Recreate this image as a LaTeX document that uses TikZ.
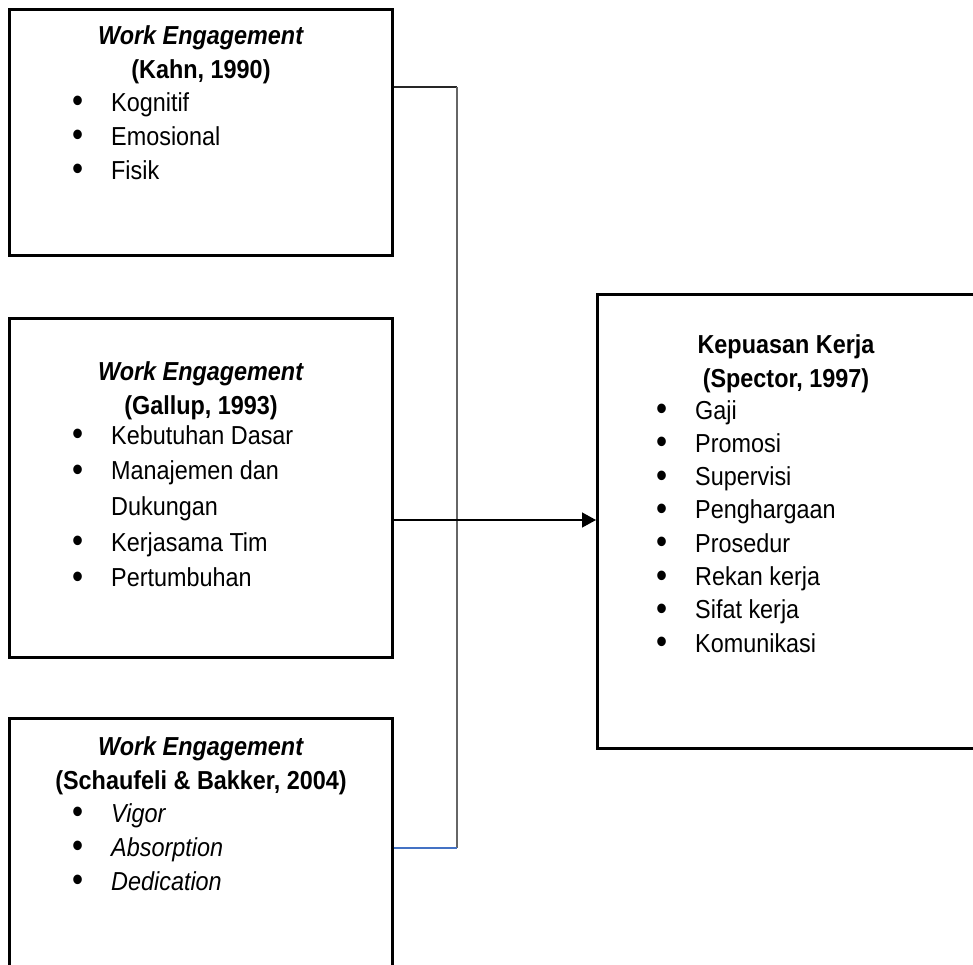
\documentclass[tikz,border=0pt]{standalone}
\usepackage{fontspec}
\setmainfont{Liberation Sans}[FakeStretch=0.9]
\usepackage{tikz}
\usetikzlibrary{arrows.meta}

\definecolor{linkblue}{HTML}{4472C4}
\newcommand{\boxfont}{\fontsize{26}{34}\selectfont}
\newcommand{\itm}[1]{\makebox[39pt][l]{\raisebox{-1.5pt}{\scalebox{1.35}{\textbullet}}}#1}

\tikzset{
  box/.style={draw, line width=2.5pt, inner sep=0pt, anchor=north west},
  head/.style={inner sep=0pt, anchor=base, font=\boxfont\bfseries},
  list/.style={inner sep=0pt, anchor=base west, font=\boxfont},
  link/.style={line width=1.3pt},
}

\begin{document}
\begin{tikzpicture}[x=1pt, y=-1pt]
  \useasboundingbox (0,0) rectangle (973,964);
  \clip (0,0) rectangle (973,964);
  % boxes
  \node[box, minimum width=383pt, minimum height=246pt] (kahn) at (8,8) {};
  \node[box, minimum width=383pt, minimum height=339pt] (gallup) at (8,317) {};
  \node[box, minimum width=383pt, minimum height=290pt] (schaufeli) at (8,717) {};
  \node[box, minimum width=410pt, minimum height=454pt] (spector) at (596,293) {};
  % titles
  \node[head] (kahn-head) at (201,44) {\begin{tabular}[t]{@{}c@{}}\textit{Work Engagement}\\(Kahn, 1990)\end{tabular}};
  \node[head] (gallup-head) at (201,380) {\begin{tabular}[t]{@{}c@{}}\textit{Work Engagement}\\(Gallup, 1993)\end{tabular}};
  \node[head] (schaufeli-head) at (201,755) {\begin{tabular}[t]{@{}c@{}}\textit{Work Engagement}\\(Schaufeli \& Bakker, 2004)\end{tabular}};
  \node[head] (spector-head) at (786,353) {\begin{tabular}[t]{@{}c@{}}Kepuasan Kerja\\(Spector, 1997)\end{tabular}};
  % lists
  \node[list] (kahn-list) at (72,111) {\begin{tabular}[t]{@{}l@{}}
    \itm{Kognitif}\\ \itm{Emosional}\\ \itm{Fisik}
  \end{tabular}};
  \node[list] (gallup-list) at (72,444) {\renewcommand{\arraystretch}{1.05}\begin{tabular}[t]{@{}l@{}}
    \itm{Kebutuhan Dasar}\\ \itm{Manajemen dan}\\ \hspace{39pt}Dukungan\\ \itm{Kerjasama Tim}\\ \itm{Pertumbuhan}
  \end{tabular}};
  \node[list] (schaufeli-list) at (72,822) {\begin{tabular}[t]{@{}l@{}}
    \itm{\textit{Vigor}}\\ \itm{\textit{Absorption}}\\ \itm{\textit{Dedication}}
  \end{tabular}};
  \node[list] (spector-list) at (656,419) {\renewcommand{\arraystretch}{0.98}\begin{tabular}[t]{@{}l@{}}
    \itm{Gaji}\\ \itm{Promosi}\\ \itm{Supervisi}\\ \itm{Penghargaan}\\ \itm{Prosedur}\\ \itm{Rekan kerja}\\ \itm{Sifat kerja}\\ \itm{Komunikasi}
  \end{tabular}};
  % connectors
  \coordinate (top) at (457,87);
  \coordinate (mid) at (457,520);
  \coordinate (bottom) at (457,848);
  \draw[link, black!85] (kahn.east |- top) -- (top);
  \draw[link, black!60] (top) -- (bottom);
  \draw[link, linkblue] (schaufeli.east |- bottom) -- (bottom);
  \draw[link, -{Triangle[length=14pt,width=15pt]}] (gallup.east |- mid) -- (spector.west |- mid);
\end{tikzpicture}
\end{document}
